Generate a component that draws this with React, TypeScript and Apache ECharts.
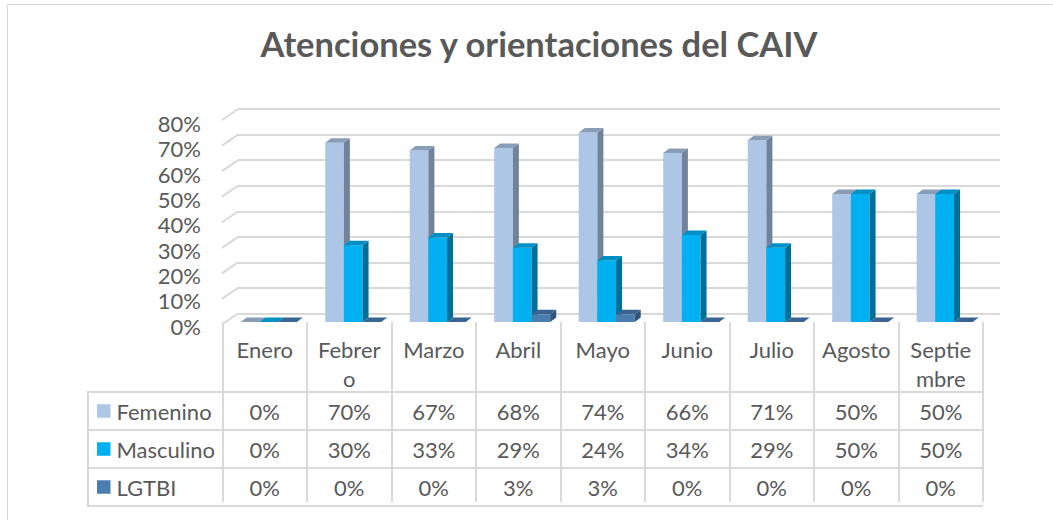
import React, { useEffect, useRef } from "react";
import * as echarts from "echarts";

const categories = ["Enero", "Febrero", "Marzo", "Abril", "Mayo", "Junio", "Julio", "Agosto", "Septiembre"];
const headerLabels = ["Enero", "Febrer\no", "Marzo", "Abril", "Mayo", "Junio", "Julio", "Agosto", "Septie\nmbre"];
const seriesNames = ["Femenino", "Masculino", "LGTBI"];
const femenino = [0, 0.7, 0.67, 0.68, 0.74, 0.66, 0.71, 0.5, 0.5];
const masculino = [0, 0.3, 0.33, 0.29, 0.24, 0.34, 0.29, 0.5, 0.5];
const lgtbi = [0, 0, 0, 0.03, 0.03, 0, 0, 0, 0];
const yTicks = [0, 0.1, 0.2, 0.3, 0.4, 0.5, 0.6, 0.7, 0.8];

const FONT = "Lato";
const TEXT = "#595959";
const LINE = "#D9D9D9";

const palettes = [
  { front: "#ADC6E6", side: "#71839B", top: "#8A9DB7" },
  { front: "#00B0F0", side: "#00709A", top: "#0090C6" },
  { front: "#4A7EB1", side: "#2E5479", top: "#3A6592" },
];

const pct = (v: number) => Math.round(v * 100) + "%";

function makeRender(k: number) {
  return (params: any, api: any) => {
    const i = api.value(0);
    const v = api.value(1);
    const base = api.coord([i, 0]);
    const top = api.coord([i, v]);
    const band = api.size([1, 0])[0];
    const bw = band * 0.221;
    const x0 = base[0] + band * 0.047 - 1.5 * bw + k * bw;
    const dx = 6;
    const dy = 4.5;
    const yT = top[1];
    const yB = base[1];
    const p = palettes[k];
    const children: any[] = [];
    if (yB - yT > 0.5) {
      children.push({ type: "rect", shape: { x: x0, y: yT, width: bw, height: yB - yT }, style: { fill: p.front } });
      children.push({
        type: "polygon",
        shape: { points: [[x0 + bw, yT], [x0 + bw + dx, yT - dy], [x0 + bw + dx, yB - dy], [x0 + bw, yB]] },
        style: { fill: p.side },
      });
    }
    children.push({
      type: "polygon",
      shape: { points: [[x0, yT], [x0 + dx, yT - dy], [x0 + bw + dx, yT - dy], [x0 + bw, yT]] },
      style: { fill: p.top },
    });
    return { type: "group", children };
  };
}

export default function App() {
  const ref = useRef<HTMLDivElement>(null);
  useEffect(() => {
    if (!ref.current) return;
    const chart = echarts.init(ref.current, null, { renderer: "svg" });
    const seriesData = [femenino, masculino, lgtbi];
    const option: any = {
      animation: false,
      backgroundColor: "#FFFFFF",
      title: {
        text: "Atenciones y orientaciones del CAIV",
        left: 539,
        top: 26,
        padding: 0,
        textAlign: "center",
        textStyle: { fontFamily: FONT, fontWeight: "bold", fontSize: 34.5, color: TEXT },
      },
      legend: {
        orient: "vertical",
        left: 97,
        top: 400,
        padding: 0,
        itemWidth: 13.5,
        itemHeight: 13.5,
        itemGap: 16,
        icon: "rect",
        selectedMode: false,
        data: seriesNames,
        textStyle: { fontFamily: FONT, fontSize: 22, color: TEXT, lineHeight: 22, padding: [0, 0, 0, 1] },
      },
      grid: [
        { left: 238, top: 109, width: 762, height: 204.5 },
        { left: 222.5, top: 117.2, width: 760.5, height: 204.8 },
        { left: 209, top: 123.5, width: 10, height: 202.5 },
      ],
      xAxis: [
        { gridIndex: 0, type: "category", data: categories, show: false },
        {
          gridIndex: 1,
          type: "category",
          data: categories,
          offset: 4,
          axisLine: { show: false },
          axisTick: { show: true, length: 180, lineStyle: { color: LINE, width: 2 } },
          axisLabel: {
            margin: 9,
            interval: 0,
            fontFamily: FONT,
            fontSize: 22,
            lineHeight: 29,
            color: TEXT,
            formatter: (_v: string, idx: number) => headerLabels[idx],
          },
        },
        { gridIndex: 2, type: "category", data: categories, show: false },
      ],
      yAxis: [
        {
          gridIndex: 0,
          type: "value",
          min: 0,
          max: 0.8,
          interval: 0.1,
          axisLabel: { show: false },
          axisLine: { show: false },
          axisTick: { show: false },
          splitLine: { show: true, lineStyle: { color: LINE, width: 2 } },
        },
        { gridIndex: 1, type: "value", min: 0, max: 0.8, interval: 0.1, show: false },
        {
          gridIndex: 2,
          type: "value",
          min: 0,
          max: 0.8,
          interval: 0.1,
          axisLine: { show: false },
          axisTick: { show: false },
          splitLine: { show: false },
          axisLabel: { margin: 8, fontFamily: FONT, fontSize: 22, color: TEXT, formatter: pct },
        },
      ],
      series: [
        {
          type: "custom",
          name: "grid-stubs",
          xAxisIndex: 0,
          yAxisIndex: 0,
          silent: true,
          data: yTicks.map((v) => [0, v]),
          renderItem: (params: any, api: any) => {
            const cs = params.coordSys;
            const y = api.coord([0, api.value(1)])[1];
            return {
              type: "line",
              shape: { x1: cs.x, y1: y, x2: cs.x - 16, y2: y + 11 },
              style: { stroke: LINE, lineWidth: 2 },
            };
          },
        },
        ...seriesNames.map((name, k) => ({
          type: "custom",
          name,
          xAxisIndex: 1,
          yAxisIndex: 1,
          itemStyle: { color: palettes[k].front },
          data: seriesData[k].map((v, i) => [i, v]),
          renderItem: makeRender(k),
          z: 3 + k,
        })),
      ],
    };
    chart.setOption(option);

    const rowY = [411, 449, 487];
    const graphics: any[] = [
      { type: "rect", shape: { x: 7.5, y: 4.5, width: 1200, height: 700 }, style: { fill: "none", stroke: LINE, lineWidth: 1 }, silent: true },
    ];
    const tableLeft = 88;
    const tableRight = chart.convertToPixel({ xAxisIndex: 1 }, categories.length - 1) as number;
    const firstCenter = chart.convertToPixel({ xAxisIndex: 1 }, 0) as number;
    const band = (tableRight - firstCenter) / (categories.length - 1);
    const rightEdge = tableRight + band / 2;
    [392, 430, 468, 506].forEach((y) => {
      graphics.push({ type: "line", shape: { x1: tableLeft, y1: y, x2: rightEdge, y2: y }, style: { stroke: LINE, lineWidth: 2 }, silent: true });
    });
    graphics.push({ type: "line", shape: { x1: tableLeft, y1: 391, x2: tableLeft, y2: 507 }, style: { stroke: LINE, lineWidth: 2 }, silent: true });
    seriesData.forEach((arr, r) => {
      arr.forEach((v, i) => {
        const cx = chart.convertToPixel({ xAxisIndex: 1 }, i) as number;
        graphics.push({
          type: "text",
          x: cx,
          y: rowY[r],
          style: { text: pct(v), fontFamily: FONT, fontSize: 22, fill: TEXT, align: "center", verticalAlign: "middle" },
          silent: true,
        });
      });
    });
    chart.setOption({ graphic: graphics });
    return () => chart.dispose();
  }, []);
  return <div ref={ref} style={{ position: "fixed", left: 0, top: 0, width: 1053, height: 520 }} />;
}
